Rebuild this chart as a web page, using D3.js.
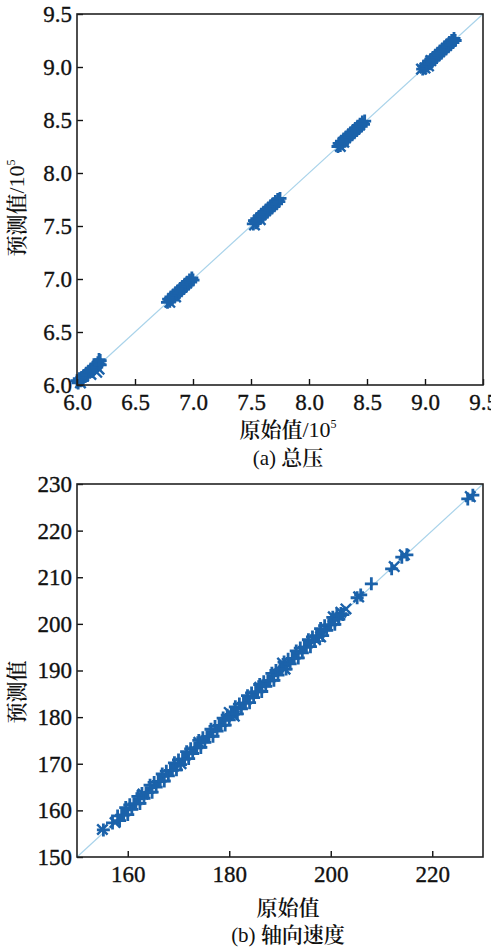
<!DOCTYPE html>
<html><head><meta charset="utf-8">
<script src="https://cdn.jsdelivr.net/npm/d3@7"></script>
<style>
html,body{margin:0;padding:0;background:#fff;}
svg{display:block;}
svg text.tl{font-family:'Liberation Serif';}
</style>
</head><body>
<script>
// ---------- DATA ----------
// (a) 总压, units of 10^5 : [original, predicted]
const pressureTicks = [6.0, 6.5, 7.0, 7.5, 8.0, 8.5, 9.0, 9.5];
const pressurePlus = [
  [6.00,6.04],[6.01,6.02],[6.02,6.06],[6.03,6.04],[6.04,6.07],[6.05,6.05],[6.06,6.09],[6.07,6.08],
  [6.08,6.11],[6.09,6.09],[6.10,6.13],[6.11,6.12],[6.12,6.15],[6.13,6.13],[6.14,6.17],[6.15,6.16],
  [6.16,6.19],[6.17,6.17],[6.18,6.21],[6.19,6.20],[6.20,6.23],[6.20,6.19],[6.19,6.24],
  [6.78,6.78],[6.79,6.81],[6.80,6.79],[6.81,6.83],[6.82,6.81],[6.83,6.85],[6.84,6.83],[6.85,6.87],
  [6.86,6.85],[6.87,6.89],[6.88,6.87],[6.89,6.91],[6.90,6.89],[6.91,6.93],[6.92,6.91],[6.93,6.95],
  [6.94,6.93],[6.95,6.97],[6.96,6.95],[6.97,6.99],[6.98,6.97],[6.99,7.01],[7.00,6.99],
  [7.52,7.52],[7.53,7.55],[7.54,7.53],[7.55,7.57],[7.56,7.55],[7.57,7.59],[7.58,7.57],[7.59,7.61],
  [7.60,7.59],[7.61,7.63],[7.62,7.61],[7.63,7.65],[7.64,7.63],[7.65,7.67],[7.66,7.65],[7.67,7.69],
  [7.68,7.67],[7.69,7.71],[7.70,7.69],[7.71,7.73],[7.72,7.71],[7.73,7.75],[7.74,7.73],[7.75,7.76],
  [8.25,8.25],[8.26,8.28],[8.27,8.26],[8.28,8.30],[8.29,8.28],[8.30,8.32],[8.31,8.30],[8.32,8.34],
  [8.33,8.32],[8.34,8.36],[8.35,8.34],[8.36,8.38],[8.37,8.36],[8.38,8.40],[8.39,8.38],[8.40,8.42],
  [8.41,8.40],[8.42,8.44],[8.43,8.42],[8.44,8.46],[8.45,8.44],[8.46,8.48],[8.47,8.46],[8.48,8.49],
  [8.98,8.98],[8.99,9.01],[9.00,8.99],[9.01,9.03],[9.02,9.01],[9.03,9.05],[9.04,9.03],[9.05,9.07],
  [9.06,9.05],[9.07,9.09],[9.08,9.07],[9.09,9.11],[9.10,9.09],[9.11,9.13],[9.12,9.11],[9.13,9.15],
  [9.14,9.13],[9.15,9.17],[9.16,9.15],[9.17,9.19],[9.18,9.17],[9.19,9.21],[9.20,9.19],[9.21,9.23],
  [9.22,9.21],[9.23,9.25],[9.24,9.23],[9.25,9.27],[9.26,9.25]
];
const pressureCross = [
  [6.03,6.02],[6.12,6.10],[6.17,6.12],[6.19,6.15],[6.80,6.78],[6.85,6.83],[7.53,7.51],[7.58,7.56],
  [8.27,8.25],[8.30,8.29],[8.97,8.98],[9.00,8.99],[9.03,9.01],[9.05,9.06]
];
// (b) 轴向速度 : [original, predicted]
const speedXTicks = [160, 180, 200, 220];
const speedYTicks = [150, 160, 170, 180, 190, 200, 210, 220, 230];
const speedPlus = [
  [155.2,155.8],[157.0,157.3],
  [158.0,158.8],[158.4,157.8],[158.8,159.0],[159.2,159.0],[159.6,160.6],[160.0,159.1],[160.4,161.2],
  [160.8,160.2],[161.2,161.4],[161.6,161.4],[162.0,163.0],[162.4,161.5],[162.8,163.6],[163.2,162.6],
  [163.6,163.8],[164.0,163.8],[164.4,165.4],[164.8,163.9],[165.2,166.0],[165.6,165.0],[166.0,166.2],
  [166.4,166.2],[166.8,167.8],[167.2,166.3],[167.6,168.4],[168.0,167.4],[168.4,168.6],[168.8,168.6],
  [169.2,170.2],[169.6,168.7],[170.0,170.8],[170.4,169.8],[170.8,171.0],[171.2,171.0],[171.6,172.6],
  [172.0,171.1],[172.4,173.2],[172.8,172.2],[173.2,173.4],[173.6,173.4],[174.0,175.0],[174.4,173.5],
  [174.8,175.6],[175.2,174.6],[175.6,175.8],[176.0,175.8],[176.4,177.4],[176.8,175.9],[177.2,178.0],
  [177.6,177.0],[178.0,178.2],[178.4,178.2],[178.8,179.8],[179.2,178.3],[179.6,180.4],[180.0,179.4],
  [180.4,180.6],[180.8,180.6],[181.2,182.2],[181.6,180.7],[182.0,182.8],[182.4,181.8],[182.8,183.0],
  [183.2,183.0],[183.6,184.6],[184.0,183.1],[184.4,185.2],[184.8,184.2],[185.2,185.4],[185.6,185.4],
  [186.0,187.0],[186.4,185.5],[186.8,187.6],[187.2,186.6],[187.6,187.8],[188.0,187.8],[188.4,189.4],
  [188.8,187.9],[189.2,190.0],[189.6,189.0],[190.0,190.2],[190.4,190.2],[190.8,191.8],[191.2,190.3],
  [191.6,192.4],[192.0,191.4],[192.4,192.6],[192.8,192.6],[193.2,194.2],[193.6,192.7],[194.0,194.8],
  [194.4,193.8],[194.8,195.0],[195.2,195.0],[195.6,196.6],[196.0,195.1],[196.4,197.2],[196.8,196.2],
  [197.2,197.4],[197.6,197.4],[198.0,199.0],[198.4,197.5],[198.8,199.6],[199.2,198.6],[199.6,199.8],
  [200.0,199.8],[200.4,201.4],[200.8,199.9],[201.2,202.0],[201.6,201.0],[202.0,202.2],[202.4,202.0],
  [205.2,205.6],[205.9,206.2],[208.0,208.6],[212.0,211.8],[214.0,214.3],[215.0,214.8],
  [227.0,226.8],[228.0,227.6]
];
const speedCross = [
  [155.0,155.9],[157.5,157.4],[163.0,163.5],[170.5,170.0],[174.0,174.6],[180.0,181.0],[181.0,180.2],
  [186.0,186.4],[190.5,191.6],[191.0,190.3],[197.0,196.6],[198.0,197.2],[200.5,201.5],[202.0,202.5],
  [203.0,203.2],[205.5,205.8],[212.5,212.3],[214.5,214.8],[227.5,227.3]
];

// ---------- DRAW ----------
const W = 491, H = 951;
const svg = d3.select("body").append("svg").attr("width", W).attr("height", H);
const markColor = "#1b62aa";
const lineColor = "#a9d3ea";
const SERIF = "Liberation Serif";
const CJK = "Noto Serif CJK SC";

function panel(cfg) {
  const x = d3.scaleLinear().domain(cfg.domain).range([77, 483]);
  const y = d3.scaleLinear().domain(cfg.domain).range([cfg.bottom, cfg.top]);
  const g = svg.append("g");

  g.append("line")
    .attr("x1", x(cfg.domain[0])).attr("y1", y(cfg.domain[0]))
    .attr("x2", x(cfg.domain[1])).attr("y2", y(cfg.domain[1]))
    .attr("stroke", lineColor).attr("stroke-width", 1.2);

  const s = 6.5;
  const c = s * 0.8;
  const plusPath = `M${-s},0H${s}M0,${-s}V${s}`;
  const crossPath = `M${-c},${-c}L${c},${c}M${-c},${c}L${c},${-c}`;

  g.append("g").selectAll("path").data(cfg.cross).join("path")
    .attr("d", crossPath)
    .attr("transform", d => `translate(${x(d[0])},${y(d[1])})`)
    .attr("fill", "none").attr("stroke", markColor).attr("stroke-width", 2.4);
  g.append("g").selectAll("path").data(cfg.plus).join("path")
    .attr("d", plusPath)
    .attr("transform", d => `translate(${x(d[0])},${y(d[1])})`)
    .attr("fill", "none").attr("stroke", markColor).attr("stroke-width", 2.8);

  const xAxis = d3.axisBottom(x).tickValues(cfg.xTicks).tickSizeInner(-6).tickSizeOuter(0)
    .tickPadding(9).tickFormat(cfg.fmt);
  const yAxis = d3.axisLeft(y).tickValues(cfg.yTicks).tickSizeInner(-6).tickSizeOuter(0)
    .tickPadding(5).tickFormat(cfg.fmt);
  const gx = g.append("g").attr("transform", `translate(0,${cfg.bottom})`).call(xAxis);
  const gy = g.append("g").attr("transform", `translate(77,0)`).call(yAxis);
  [gx, gy].forEach(a => {
    a.attr("font-family", SERIF).attr("font-size", 23);
    a.select(".domain").remove();
    a.selectAll(".tick line").attr("stroke", "#111").attr("stroke-width", 1.4);
    a.selectAll(".tick text")
      .attr("class", "tl")
      .attr("font-family", SERIF).attr("font-size", 23)
      .attr("fill", "#111").attr("stroke", "#111").attr("stroke-width", 0.35);
  });
  gy.selectAll(".tick text").attr("x", -5);

  g.append("rect").attr("x", 77).attr("y", cfg.top)
    .attr("width", 406).attr("height", cfg.bottom - cfg.top)
    .attr("fill", "none").attr("stroke", "#222").attr("stroke-width", 1.6);

  const xt = g.append("text").attr("x", 288).attr("y", cfg.xTitleY)
    .attr("text-anchor", "middle").attr("fill", "#111")
    .attr("font-family", CJK).attr("font-size", 21).attr("font-weight", 600);
  xt.append("tspan").text(cfg.xTitle);
  if (cfg.sup) {
    xt.append("tspan").attr("font-family", SERIF).attr("font-size", 22).attr("font-weight", 400).text("/10");
    xt.append("tspan").attr("font-family", SERIF).attr("font-size", 12).attr("font-weight", 400)
      .attr("dy", -9).text("5");
  }
  const cap = g.append("text").attr("x", 288).attr("y", cfg.capY)
    .attr("text-anchor", "middle").attr("fill", "#111").attr("font-size", 21);
  cap.append("tspan").attr("font-family", SERIF).text(cfg.capLetter + " ");
  cap.append("tspan").attr("font-family", CJK).attr("font-weight", 600).text(cfg.capText);

  const yt = g.append("text").attr("transform", `translate(24,${cfg.yTitleY}) rotate(-90)`)
    .attr("text-anchor", "middle").attr("fill", "#111")
    .attr("font-family", CJK).attr("font-size", 21).attr("font-weight", 600);
  yt.append("tspan").text(cfg.yTitle);
  if (cfg.sup) {
    yt.append("tspan").attr("font-family", SERIF).attr("font-size", 22).attr("font-weight", 400).text("/10");
    yt.append("tspan").attr("font-family", SERIF).attr("font-size", 12).attr("font-weight", 400)
      .attr("dy", -9).text("5");
  }
}

panel({
  domain: [6.0, 9.5], top: 14, bottom: 385,
  xTicks: pressureTicks, yTicks: pressureTicks, fmt: d3.format(".1f"),
  plus: pressurePlus, cross: pressureCross,
  xTitle: "原始值", yTitle: "预测值", sup: true,
  xTitleY: 437, capY: 465, capLetter: "(a)", capText: "总压", yTitleY: 208
});
panel({
  domain: [150, 230], top: 484, bottom: 857,
  xTicks: speedXTicks, yTicks: speedYTicks, fmt: d3.format("d"),
  plus: speedPlus, cross: speedCross,
  xTitle: "原始值", yTitle: "预测值", sup: false,
  xTitleY: 915, capY: 942, capLetter: "(b)", capText: "轴向速度", yTitleY: 692
});
</script>
</body></html>
